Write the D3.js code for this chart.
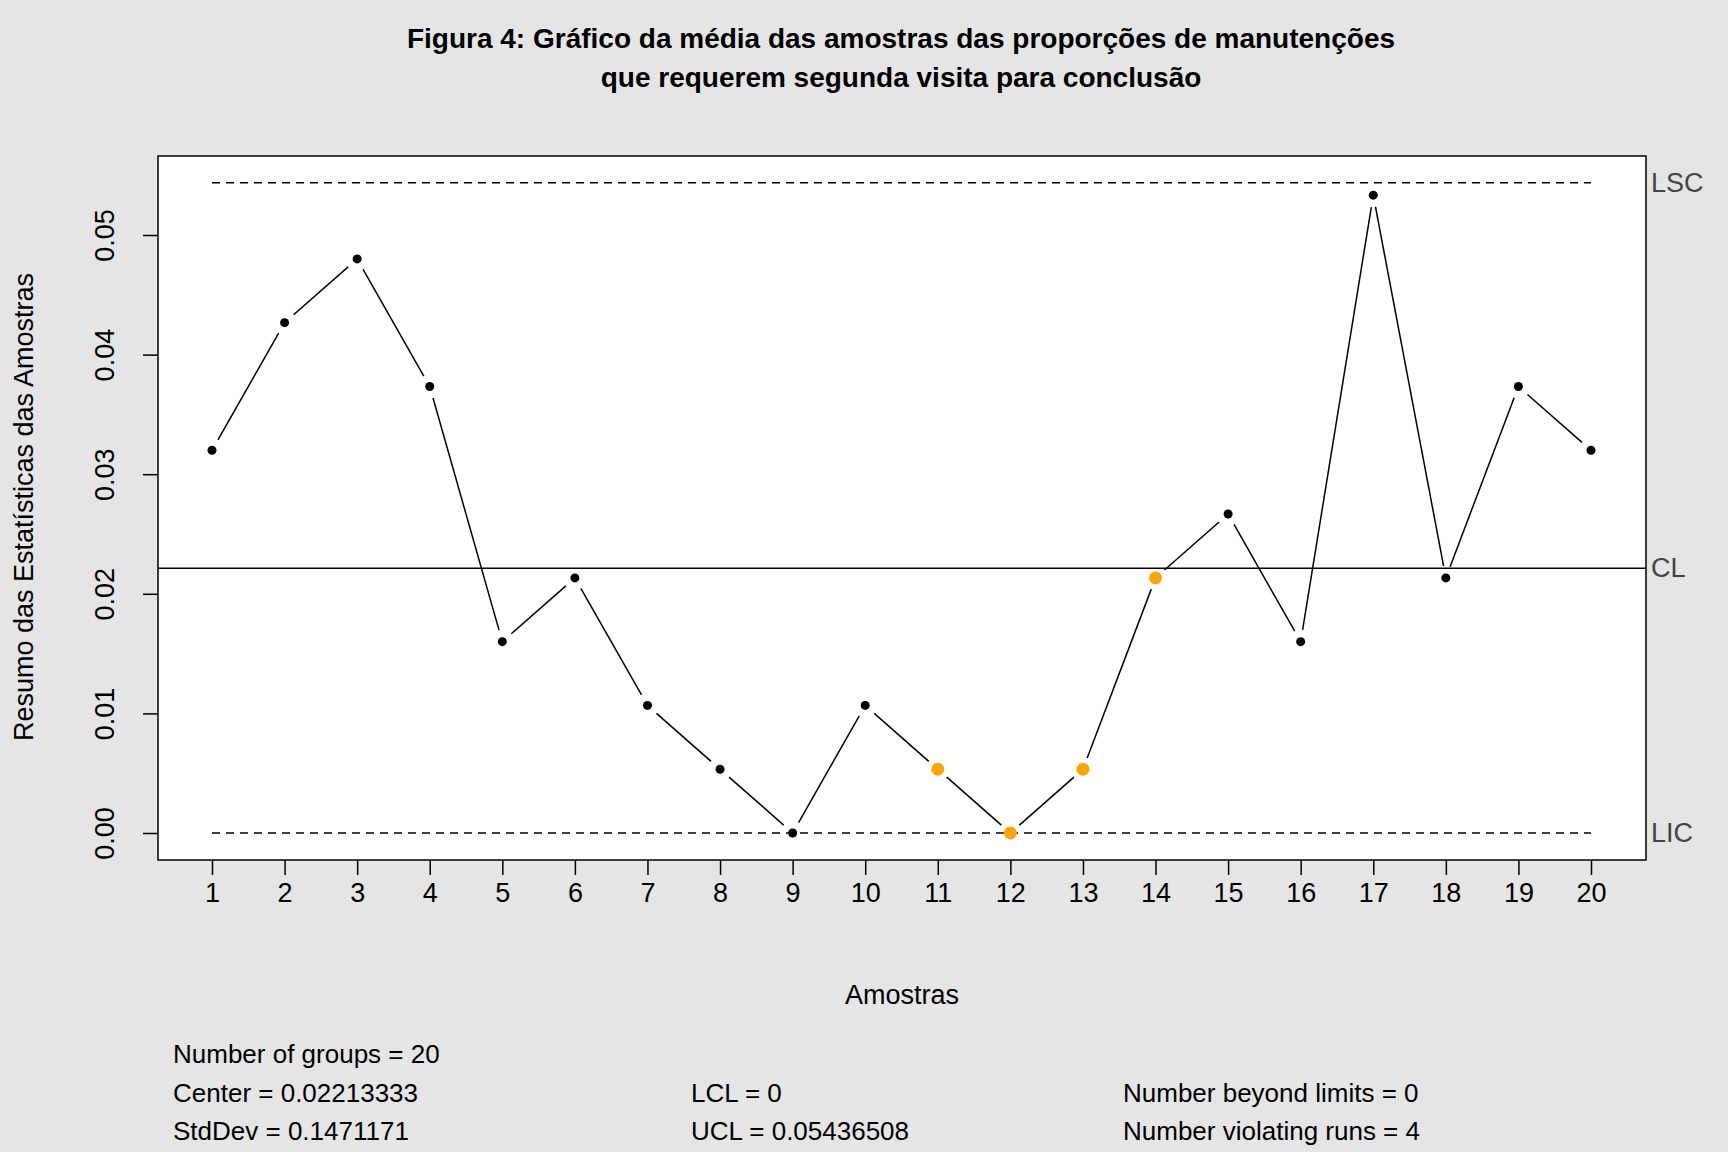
<!DOCTYPE html>
<html><head><meta charset="utf-8">
<script src="https://cdn.jsdelivr.net/npm/d3@7"></script>
<style>body{margin:0;background:#e5e5e5;} text{font-family:Arial,"Liberation Sans",sans-serif;}</style>
</head><body>
<script>
// sample statistics (proportions)
let samples = d3.range(1, 21);
let values = [0.032, 0.04267, 0.048, 0.03733, 0.016, 0.02133, 0.01067, 0.00533, 0, 0.01067,
              0.00533, 0, 0.00533, 0.02133, 0.02667, 0.016, 0.05333, 0.02133, 0.03733, 0.032];
let violating = [11, 12, 13, 14];
let center = 0.02213333, lcl = 0, ucl = 0.05436508;
let yTicks = [0, 0.01, 0.02, 0.03, 0.04, 0.05];

let width = 1728, height = 1152;
let svg = d3.select("body").append("svg").attr("width", width).attr("height", height);
svg.append("rect").attr("width", width).attr("height", height).attr("fill", "#e5e5e5");

let box = {x0: 158, x1: 1646, y0: 156, y1: 860};
let xScale = d3.scaleLinear().domain([1, 20]).range([212, 1591]);
let yScale = d3.scaleLinear().domain([0, 0.05]).range([833, 235]);

svg.append("rect").attr("x", box.x0).attr("y", box.y0)
  .attr("width", box.x1 - box.x0).attr("height", box.y1 - box.y0)
  .attr("fill", "white").attr("stroke", "black").attr("stroke-width", 1.5);

// title
svg.append("text").attr("x", 901).attr("y", 48).attr("text-anchor", "middle")
  .style("font-weight", "bold").style("font-size", "28px")
  .text("Figura 4: Gráfico da média das amostras das proporções de manutenções");
svg.append("text").attr("x", 901).attr("y", 87).attr("text-anchor", "middle")
  .style("font-weight", "bold").style("font-size", "28px")
  .text("que requerem segunda visita para conclusão");

// axes
let xAxis = d3.axisBottom(xScale).tickValues(samples).tickSize(15).tickPadding(8);
let gx = svg.append("g").attr("transform", "translate(0," + box.y1 + ")").call(xAxis);
gx.select(".domain").remove();
gx.selectAll("line").attr("stroke-width", 1.5);
gx.selectAll("text").style("font-size", "27px").style("font-family", "Arial, Liberation Sans, sans-serif");

let yAxis = d3.axisLeft(yScale).tickValues(yTicks).tickSize(15).tickFormat(d3.format(".2f"));
let gy = svg.append("g").attr("transform", "translate(" + box.x0 + ",0)").call(yAxis);
gy.select(".domain").remove();
gy.selectAll("line").attr("stroke-width", 1.5);
gy.selectAll("text").attr("x", null).attr("dy", null)
  .attr("transform", "translate(-44,0) rotate(-90)").attr("text-anchor", "middle")
  .style("font-size", "27px").style("font-family", "Arial, Liberation Sans, sans-serif");

svg.append("text").attr("x", 902).attr("y", 1004).attr("text-anchor", "middle")
  .style("font-size", "27px").text("Amostras");
svg.append("text").attr("transform", "translate(33,507) rotate(-90)").attr("text-anchor", "middle")
  .style("font-size", "27px").text("Resumo das Estatísticas das Amostras");

// control lines
let lines = [{v: ucl, lab: "LSC", dash: "8,6"}, {v: center, lab: "CL", dash: null}, {v: lcl, lab: "LIC", dash: "8,6"}];
lines.forEach(function(l) {
  svg.append("line").attr("x1", l.dash ? xScale(1) : box.x0).attr("x2", l.dash ? xScale(20) : box.x1)
    .attr("y1", yScale(l.v)).attr("y2", yScale(l.v))
    .attr("stroke", "black").attr("stroke-width", 1.5).attr("stroke-dasharray", l.dash);
  svg.append("text").attr("x", 1651).attr("y", yScale(l.v) + 9).style("font-size", "27px")
    .attr("fill", "#444").text(l.lab);
});

// line segments with gaps near points
let gap = 12;
for (let i = 0; i < values.length - 1; i++) {
  let ax = xScale(samples[i]), ay = yScale(values[i]);
  let bx = xScale(samples[i + 1]), by = yScale(values[i + 1]);
  let len = Math.hypot(bx - ax, by - ay);
  if (len <= 2 * gap) continue;
  let ux = (bx - ax) / len, uy = (by - ay) / len;
  svg.append("line").attr("x1", ax + ux * gap).attr("y1", ay + uy * gap)
    .attr("x2", bx - ux * gap).attr("y2", by - uy * gap)
    .attr("stroke", "black").attr("stroke-width", 1.5);
}

svg.selectAll("circle.pt").data(samples).enter().append("circle")
  .attr("cx", function(d) { return xScale(d); })
  .attr("cy", function(d, i) { return yScale(values[i]); })
  .attr("r", function(d) { return violating.includes(d) ? 6.5 : 4.5; })
  .attr("fill", function(d) { return violating.includes(d) ? "orange" : "black"; });

// stats
let stats = [
  [173, 1063, "Number of groups = 20"],
  [173, 1102, "Center = 0.02213333"], [691, 1102, "LCL = 0"], [1123, 1102, "Number beyond limits = 0"],
  [173, 1140, "StdDev = 0.1471171"], [691, 1140, "UCL = 0.05436508"], [1123, 1140, "Number violating runs = 4"]
];
stats.forEach(function(s) {
  svg.append("text").attr("x", s[0]).attr("y", s[1]).style("font-size", "26px").text(s[2]);
});
</script>
</body></html>
